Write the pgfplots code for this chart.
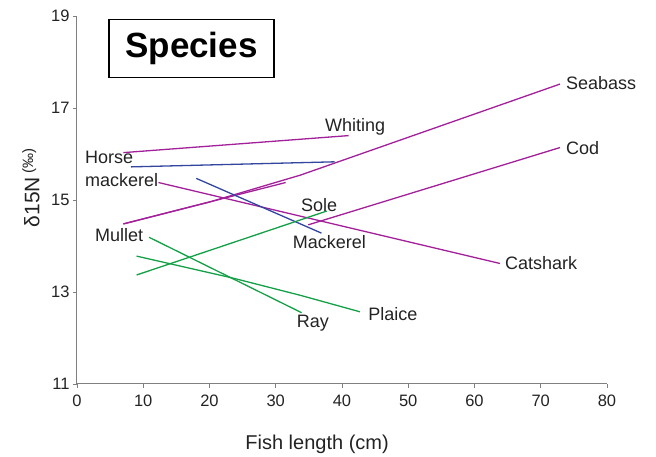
\documentclass[border=0pt]{standalone}
\usepackage{fontspec}
\setmainfont{Liberation Sans}
\usepackage{pgfplots}
\pgfplotsset{compat=1.18}

\definecolor{fishmagenta}{RGB}{163,32,155}
\definecolor{fishblue}{RGB}{50,70,160}
\definecolor{fishgreen}{RGB}{20,160,70}
\definecolor{axisgray}{RGB}{128,128,128}
\definecolor{labelgray}{RGB}{35,35,35}

\tikzset{lbl/.style={anchor=base west, inner sep=0pt, text=labelgray,
    font=\fontsize{18}{20}\selectfont}}

\begin{document}
\begin{tikzpicture}
\begin{axis}[
  scale only axis, width=530pt, height=368pt,
  xmin=0, xmax=80, ymin=11, ymax=19,
  xtick={0,10,...,80}, ytick={11,13,15,17,19},
  axis x line*=bottom, axis y line*=left,
  axis line style={draw=axisgray, line width=1pt},
  tick style={draw=axisgray, line width=0.8pt},
  tick align=outside, major tick length=4pt,
  tick label style={font=\fontsize{16.5}{18}\selectfont, text=labelgray},
  xticklabel style={yshift=-3pt},
  /pgf/number format/assume math mode=true,
  xlabel={Fish length (cm)},
  xlabel style={at={(axis description cs:0.453,-0.163)}, anchor=center,
    font=\fontsize{20}{24}\selectfont, text=labelgray},
  ylabel={δ15N\,\raisebox{0.3em}{\fontsize{15}{16}\selectfont(‰)}},
  ylabel style={at={(axis description cs:-0.087,0.533)}, anchor=center,
    font=\fontsize{21}{24}\selectfont, text=labelgray},
  clip=false,
  every axis plot/.append style={line width=1.3pt},
]
% magenta species
\addplot[fishmagenta] coordinates {(7.0,16.03) (41.0,16.40)};            % Whiting
\addplot[fishmagenta] coordinates {(12.3,15.38) (63.85,13.62)};          % Catshark
\addplot[fishmagenta] coordinates {(7.0,14.48) (20.1,14.96) (33.7,15.54) (72.9,17.52)}; % Seabass
\addplot[fishmagenta] coordinates {(7.0,14.48) (31.5,15.38)};            % Mullet
\addplot[fishmagenta] coordinates {(34.9,14.46) (72.9,16.14)};           % Cod
% blue species
\addplot[fishblue] coordinates {(8.15,15.72) (38.9,15.83)};              % Horse mackerel
\addplot[fishblue] coordinates {(18.0,15.47) (36.9,14.28)};              % Mackerel
% green species
\addplot[fishgreen] coordinates {(9.0,13.37) (37.7,14.76)};              % Sole
\addplot[fishgreen] coordinates {(10.87,14.19) (33.9,12.55)};            % Ray
\addplot[fishgreen] coordinates {(9.0,13.78) (23.6,13.30) (33.66,12.93) (42.7,12.57)}; % Plaice

% species names
\node[lbl] at (axis cs:37.43,16.48) {Whiting};
\node[lbl] at (axis cs:73.81,17.41) {Seabass};
\node[lbl] at (axis cs:73.81,16.00) {Cod};
\node[lbl] at (axis cs:33.81,14.76) {Sole};
\node[lbl] at (axis cs:32.56,13.95) {Mackerel};
\node[lbl] at (axis cs:64.60,13.48) {Catshark};
\node[lbl] at (axis cs:2.72,14.09) {Mullet};
\node[lbl] at (axis cs:43.96,12.39) {Plaice};
\node[lbl] at (axis cs:33.16,12.23) {Ray};
\node[lbl] at (axis cs:1.21,15.80) {Horse};
\node[lbl] at (axis cs:1.21,15.30) {mackerel};

% title box
\node[draw=black, line width=1.2pt, fill=white, minimum width=165pt,
  minimum height=58pt, inner sep=0pt, font=\fontsize{35}{40}\selectfont\bfseries]
  at (axis cs:17.28,18.30) {Species};
\end{axis}
\path[use as bounding box] (-77pt,-73pt) rectangle (579pt,384pt);
\end{tikzpicture}
\end{document}
